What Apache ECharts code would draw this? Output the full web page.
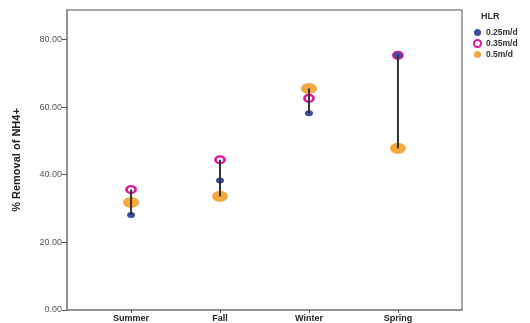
<!DOCTYPE html>
<html><head><meta charset="utf-8">
<script src="https://cdn.jsdelivr.net/npm/echarts@6/dist/echarts.min.js"></script>
<style>html,body{margin:0;padding:0;background:#fff}#c{width:530px;height:323px}</style>
</head><body><div id="c"></div>
<script>
const categories = ['Summer', 'Fall', 'Winter', 'Spring'];
const hlr025 = [28.1, 38.3, 58.2, 75.3];
const hlr035 = [35.6, 44.4, 62.6, 75.3];
const hlr05 = [31.8, 33.6, 65.5, 47.8];
const yTicks = [0, 20, 40, 60, 80];

const chart = echarts.init(document.getElementById('c'));
const toPts = arr => arr.map((v, i) => [i, v]);
const ranges = categories.map((c, i) => {
  const vals = [hlr025[i], hlr035[i], hlr05[i]];
  return [i, Math.min(...vals), Math.max(...vals)];
});
const lbl = {fontFamily: 'Liberation Sans, Arial, sans-serif'};
chart.setOption({
  animation: false,
  grid: {left: 67, right: 68, top: 10, bottom: 13, show: true, borderColor: '#8a8a8a', borderWidth: 1.5},
  title: {text: 'HLR', left: 476, top: 7, textStyle: {fontSize: 9, fontWeight: 'bold', color: '#333', fontFamily: lbl.fontFamily}},
  legend: {
    orient: 'vertical', left: 468, top: 23, itemWidth: 7, itemHeight: 7, itemGap: 2,
    textStyle: {fontSize: 8.5, fontWeight: 'bold', color: '#333', fontFamily: lbl.fontFamily},
    data: ['0.25m/d', '0.35m/d', '0.5m/d']
  },
  xAxis: {
    type: 'value', min: -0.72, max: 3.72, interval: 1,
    axisLine: {onZero: false, lineStyle: {color: '#8a8a8a', width: 1.5}},
    axisTick: {show: true, length: 3, lineStyle: {color: '#555'}, customValues: [0, 1, 2, 3]},
    axisLabel: {customValues: [0, 1, 2, 3], formatter: v => categories[Math.round(v)] || '', fontSize: 9, fontWeight: 'bold', color: '#222', margin: 4, fontFamily: lbl.fontFamily},
    splitLine: {show: false}
  },
  yAxis: {
    type: 'value', min: 0, max: 88.7, interval: 20,
    name: '% Removal of NH4+', nameLocation: 'middle', nameGap: 45, nameRotate: 90,
    nameTextStyle: {fontSize: 11, fontWeight: 'bold', color: '#222', fontFamily: lbl.fontFamily},
    axisLine: {show: true, onZero: false, lineStyle: {color: '#8a8a8a', width: 1.5}},
    axisTick: {show: true, length: 5, lineStyle: {color: '#555'}, customValues: yTicks},
    axisLabel: {customValues: yTicks, formatter: v => v.toFixed(2), fontSize: 9, color: '#555', margin: 5, fontFamily: lbl.fontFamily},
    splitLine: {show: false}
  },
  series: [
    {name: '0.5m/d', type: 'scatter', z: 2, symbol: 'circle', symbolSize: [16, 11], data: toPts(hlr05), itemStyle: {color: '#f5a93c', opacity: 1}},
    {name: '0.35m/d', type: 'scatter', z: 3, symbol: 'circle', symbolSize: [9, 7], data: toPts(hlr035), itemStyle: {color: '#ffffff', borderColor: '#e0189c', borderWidth: 2.5, opacity: 1}},
    {name: '0.25m/d', type: 'scatter', z: 4, symbol: 'circle', symbolSize: [8, 6], data: toPts(hlr025), itemStyle: {color: '#3c4ea0', opacity: 1}},
    {
      type: 'custom', z: 5, data: ranges,
      renderItem: (params, api) => {
        const p1 = api.coord([api.value(0), api.value(1)]);
        const p2 = api.coord([api.value(0), api.value(2)]);
        return {type: 'line', shape: {x1: p1[0], y1: p1[1], x2: p2[0], y2: p2[1]}, style: {stroke: '#333', lineWidth: 2}};
      }
    }
  ]
});
</script></body></html>
